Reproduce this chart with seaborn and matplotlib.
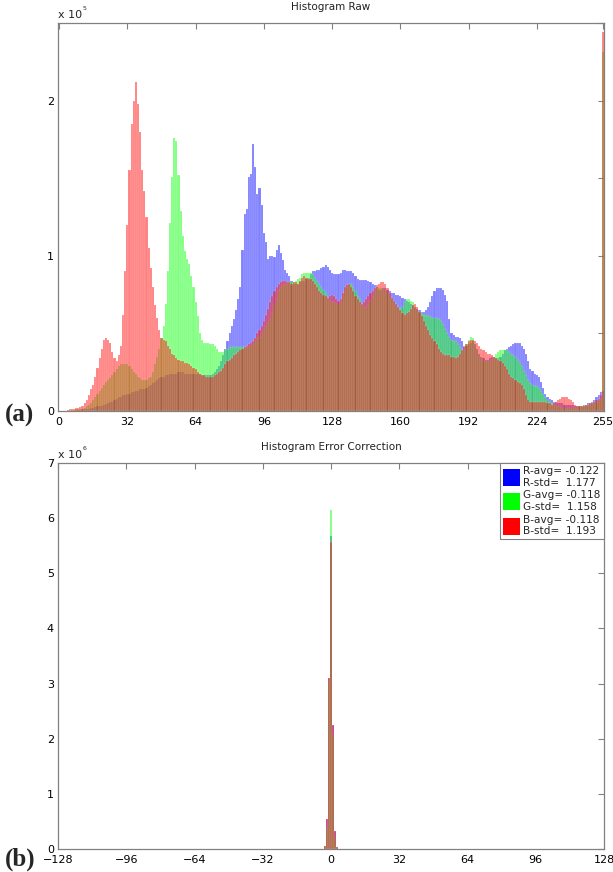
import numpy as np
import matplotlib.pyplot as plt
import seaborn as sns
from matplotlib.colors import to_rgba
from matplotlib.patches import Patch

# raw histogram, counts in units of 1e5, one value per grey level 0..255
raw_levels = np.arange(256)

raw_red = [
    0, 0, 0, 0, 0.005, 0.01, 0.01, 0.015, 0.02, 0.02, 0.025, 0.03, 0.05, 0.07, 0.1, 0.14,
    0.17, 0.22, 0.28, 0.34, 0.4, 0.46, 0.47, 0.46, 0.44, 0.38, 0.34, 0.32, 0.36, 0.42, 0.62, 0.9,
    1.2, 1.55, 1.85, 2.0, 2.12, 1.98, 1.8, 1.55, 1.42, 1.25, 1.05, 0.92, 0.8, 0.68, 0.6, 0.52,
    0.47, 0.46, 0.45, 0.42, 0.4, 0.37, 0.36, 0.34, 0.33, 0.32, 0.32, 0.31, 0.31, 0.3, 0.29, 0.28,
    0.27, 0.25, 0.24, 0.23, 0.23, 0.22, 0.22, 0.22, 0.22, 0.23, 0.24, 0.25, 0.26, 0.28, 0.3, 0.32,
    0.33, 0.34, 0.36, 0.37, 0.38, 0.39, 0.4, 0.41, 0.42, 0.43, 0.44, 0.45, 0.47, 0.5, 0.52, 0.55,
    0.58, 0.62, 0.66, 0.7, 0.74, 0.77, 0.8, 0.82, 0.83, 0.84, 0.84, 0.83, 0.83, 0.82, 0.83, 0.83,
    0.82, 0.84, 0.86, 0.87, 0.86, 0.85, 0.85, 0.84, 0.82, 0.8, 0.77, 0.76, 0.75, 0.74, 0.73, 0.74,
    0.75, 0.74, 0.72, 0.71, 0.72, 0.76, 0.8, 0.81, 0.82, 0.8, 0.77, 0.74, 0.72, 0.7, 0.69, 0.7,
    0.72, 0.74, 0.76, 0.77, 0.79, 0.81, 0.82, 0.83, 0.83, 0.82, 0.79, 0.76, 0.73, 0.71, 0.69, 0.67,
    0.65, 0.63, 0.62, 0.63, 0.64, 0.66, 0.68, 0.69, 0.67, 0.64, 0.61, 0.58, 0.55, 0.52, 0.49, 0.47,
    0.45, 0.43, 0.4, 0.38, 0.37, 0.36, 0.36, 0.36, 0.35, 0.35, 0.34, 0.35, 0.37, 0.39, 0.41, 0.43,
    0.45, 0.46, 0.46, 0.45, 0.44, 0.42, 0.4, 0.39, 0.38, 0.37, 0.37, 0.36, 0.35, 0.34, 0.33, 0.32,
    0.31, 0.29, 0.27, 0.24, 0.22, 0.21, 0.2, 0.19, 0.18, 0.17, 0.14, 0.1, 0.07, 0.06, 0.06, 0.06,
    0.06, 0.06, 0.06, 0.06, 0.06, 0.05, 0.05, 0.04, 0.05, 0.06, 0.07, 0.08, 0.09, 0.09, 0.09, 0.08,
    0.07, 0.06, 0.04, 0.03, 0.03, 0.03, 0.03, 0.04, 0.04, 0.05, 0.05, 0.06, 0.07, 0.08, 0.1, 2.44,
]

raw_green = [
    0, 0, 0, 0, 0, 0, 0.005, 0.005, 0.01, 0.01, 0.01, 0.015, 0.02, 0.03, 0.04, 0.05,
    0.07, 0.09, 0.11, 0.13, 0.15, 0.17, 0.19, 0.2, 0.21, 0.23, 0.25, 0.27, 0.29, 0.3, 0.3, 0.3,
    0.3, 0.29, 0.27, 0.25, 0.24, 0.22, 0.21, 0.2, 0.2, 0.2, 0.21, 0.22, 0.25, 0.3, 0.35, 0.4,
    0.47, 0.55, 0.69, 0.9, 1.21, 1.51, 1.76, 1.74, 1.52, 1.29, 1.13, 1.03, 0.98, 0.95, 0.87, 0.8,
    0.7, 0.61, 0.5, 0.46, 0.44, 0.44, 0.44, 0.43, 0.43, 0.42, 0.4, 0.38, 0.38, 0.38, 0.39, 0.4,
    0.41, 0.41, 0.41, 0.41, 0.41, 0.41, 0.41, 0.41, 0.41, 0.41, 0.42, 0.43, 0.45, 0.47, 0.48, 0.5,
    0.52, 0.55, 0.57, 0.59, 0.63, 0.68, 0.73, 0.78, 0.8, 0.81, 0.82, 0.82, 0.83, 0.83, 0.83, 0.84,
    0.85, 0.86, 0.88, 0.89, 0.89, 0.89, 0.89, 0.88, 0.86, 0.84, 0.82, 0.8, 0.78, 0.76, 0.73, 0.71,
    0.7, 0.7, 0.69, 0.69, 0.7, 0.74, 0.78, 0.8, 0.82, 0.82, 0.8, 0.77, 0.74, 0.72, 0.69, 0.67,
    0.67, 0.68, 0.71, 0.74, 0.77, 0.79, 0.79, 0.79, 0.79, 0.78, 0.76, 0.74, 0.72, 0.7, 0.68, 0.67,
    0.66, 0.67, 0.7, 0.72, 0.72, 0.71, 0.7, 0.67, 0.65, 0.64, 0.63, 0.62, 0.62, 0.61, 0.61, 0.6,
    0.6, 0.6, 0.59, 0.58, 0.56, 0.53, 0.5, 0.48, 0.46, 0.45, 0.45, 0.43, 0.41, 0.39, 0.4, 0.43,
    0.46, 0.48, 0.47, 0.43, 0.39, 0.36, 0.34, 0.33, 0.32, 0.32, 0.32, 0.33, 0.35, 0.37, 0.38, 0.39,
    0.39, 0.39, 0.39, 0.38, 0.37, 0.36, 0.35, 0.33, 0.31, 0.29, 0.26, 0.23, 0.2, 0.18, 0.17, 0.16,
    0.16, 0.15, 0.13, 0.11, 0.09, 0.07, 0.06, 0.05, 0.04, 0.03, 0.03, 0.03, 0.02, 0.02, 0.02, 0.02,
    0.02, 0.02, 0.02, 0.02, 0.03, 0.03, 0.03, 0.04, 0.04, 0.04, 0.05, 0.05, 0.06, 0.07, 0.08, 2.31,
]

raw_blue = [
    0, 0, 0, 0, 0, 0, 0, 0, 0.005, 0.005, 0.005, 0.01, 0.01, 0.01, 0.015, 0.02,
    0.02, 0.025, 0.03, 0.03, 0.035, 0.04, 0.045, 0.05, 0.055, 0.06, 0.07, 0.08, 0.09, 0.09, 0.1, 0.1,
    0.11, 0.11, 0.12, 0.12, 0.13, 0.13, 0.14, 0.14, 0.14, 0.15, 0.16, 0.17, 0.18, 0.19, 0.2, 0.21,
    0.22, 0.22, 0.23, 0.23, 0.24, 0.24, 0.24, 0.24, 0.25, 0.25, 0.25, 0.24, 0.24, 0.24, 0.24, 0.24,
    0.24, 0.24, 0.24, 0.23, 0.23, 0.23, 0.23, 0.23, 0.24, 0.25, 0.27, 0.29, 0.32, 0.36, 0.4, 0.45,
    0.5, 0.55, 0.59, 0.65, 0.72, 0.8, 1.04, 1.27, 1.3, 1.51, 1.53, 1.72, 1.57, 1.4, 1.44, 1.33,
    1.15, 1.09, 0.98, 1.0, 1.0, 0.99, 1.04, 1.07, 1.02, 0.97, 0.91, 0.89, 0.87, 0.84, 0.82, 0.82,
    0.82, 0.83, 0.84, 0.84, 0.85, 0.86, 0.88, 0.9, 0.9, 0.91, 0.91, 0.92, 0.93, 0.94, 0.93, 0.91,
    0.89, 0.88, 0.88, 0.88, 0.89, 0.91, 0.91, 0.9, 0.9, 0.9, 0.89, 0.87, 0.85, 0.845, 0.845, 0.845,
    0.845, 0.84, 0.83, 0.82, 0.81, 0.8, 0.78, 0.78, 0.79, 0.79, 0.78, 0.77, 0.76, 0.76, 0.75, 0.75,
    0.74, 0.73, 0.72, 0.71, 0.7, 0.69, 0.68, 0.67, 0.66, 0.65, 0.64, 0.64, 0.65, 0.67, 0.7, 0.74,
    0.77, 0.79, 0.79, 0.79, 0.78, 0.75, 0.71, 0.59, 0.5, 0.49, 0.48, 0.48, 0.47, 0.45, 0.42, 0.42,
    0.43, 0.44, 0.45, 0.43, 0.4, 0.37, 0.35, 0.34, 0.33, 0.33, 0.34, 0.35, 0.35, 0.34, 0.34, 0.35,
    0.37, 0.39, 0.4, 0.41, 0.42, 0.43, 0.44, 0.44, 0.44, 0.42, 0.4, 0.37, 0.32, 0.27, 0.26, 0.24,
    0.23, 0.22, 0.19, 0.15, 0.11, 0.09, 0.08, 0.07, 0.06, 0.06, 0.05, 0.05, 0.05, 0.04, 0.04, 0.04,
    0.04, 0.04, 0.03, 0.03, 0.03, 0.03, 0.04, 0.04, 0.05, 0.05, 0.06, 0.07, 0.09, 0.1, 0.12, 0.13,
]

# error histogram, counts in units of 1e6 (all other bins are empty)
err_levels = np.arange(-4, 5)
err_red = [0.005, 0.05, 0.55, 3.1, 5.57, 2.25, 0.32, 0.04, 0.005]
err_green = [0.005, 0.04, 0.38, 3.05, 6.15, 2.07, 0.2, 0.03, 0.005]
err_blue = [0.005, 0.05, 0.55, 3.11, 5.67, 2.25, 0.32, 0.04, 0.005]

legend_labels = ['R-avg= -0.122\nR-std=  1.177',
                 'G-avg= -0.118\nG-std=  1.158',
                 'B-avg= -0.118\nB-std=  1.193']

raw_xticks = [0, 32, 64, 96, 128, 160, 192, 224, 255]
err_xticks = [-128, -96, -64, -32, 0, 32, 64, 96, 128]

sns.set_style("white")
plt.rcParams['font.family'] = ['DejaVu Sans']

W, H = 613, 872
fig = plt.figure(figsize=(W / 100, H / 100), dpi=100)
ax1 = fig.add_axes([58 / W, 1 - 411 / H, 546 / W, 388 / H])
ax2 = fig.add_axes([58 / W, 1 - 849 / H, 546 / W, 386 / H])

gray = '#808080'


def draw(ax, levels, series):
    for vals, col in series:
        n0 = len(ax.patches)
        sns.histplot(x=levels, weights=vals, discrete=True, ax=ax, color=col,
                     linewidth=0.3, legend=False)
        # semi-transparent fill, fainter white edge between the bars
        for p in ax.patches[n0:]:
            p.set_alpha(None)
            p.set_facecolor(to_rgba(col, 0.5))
            p.set_edgecolor((1, 1, 1, 0.35))


draw(ax1, raw_levels, [(raw_blue, 'blue'), (raw_green, 'lime'), (raw_red, 'red')])
draw(ax2, err_levels, [(err_blue, 'blue'), (err_green, 'lime'), (err_red, 'red')])

ax1.set_xlim(-0.5, 255.5)
ax1.set_ylim(0, 2.5)
ax1.set_xticks(raw_xticks)
ax1.set_yticks([0, 1, 2])
ax1.set_yticks([0.5, 1.5, 2.5], minor=True)

ax2.set_xlim(-128, 128)
ax2.set_ylim(0, 7)
ax2.set_xticks(err_xticks)
ax2.set_yticks(range(8))

for ax in (ax1, ax2):
    ax.set_xlabel('')
    ax.set_ylabel('')
    for sp in ax.spines.values():
        sp.set_color(gray)
        sp.set_linewidth(0.9)
    ax.tick_params(which='both', direction='in', top=True, right=True,
                   color=gray, length=4, width=0.8, labelsize=8, pad=3,
                   labelcolor='black')
    ax.tick_params(axis='x', pad=4.5)

# MATLAB-style titles, exponent labels and panel letters
for ax, title, expo in ((ax1, 'Histogram Raw', '5'),
                        (ax2, 'Histogram Error Correction', '6')):
    ax.text(0.5, 1 + 11 / 388, title, transform=ax.transAxes, ha='center',
            va='bottom', fontsize=7.5, color='#222222')
    ax.text(0.0, 1 + 3 / 388, 'x 10', transform=ax.transAxes, ha='left',
            va='bottom', fontsize=8)
    ax.text(25 / 546, 1 + 12 / 388, expo, transform=ax.transAxes,
            ha='left', va='bottom', fontsize=4.5)

fig.text(20 / W, 1 - 415 / H, '(a)', ha='center', va='center', fontsize=18,
         fontweight='bold', family='Liberation Serif')
fig.text(20 / W, 1 - 859 / H, '(b)', ha='center', va='center', fontsize=18,
         fontweight='bold', family='Liberation Serif')

handles = [Patch(facecolor=c, edgecolor='none') for c in ('blue', 'lime', 'red')]
leg = ax2.legend(handles, legend_labels, loc='upper right', fontsize=7.6,
                 frameon=True, fancybox=False, framealpha=1, borderaxespad=0,
                 handlelength=1.6, handleheight=2.1, handletextpad=0.3,
                 labelspacing=0.25, borderpad=0.3)
leg.get_frame().set_edgecolor(gray)
leg.get_frame().set_linewidth(0.8)

fig.savefig('out.png', dpi=100)
